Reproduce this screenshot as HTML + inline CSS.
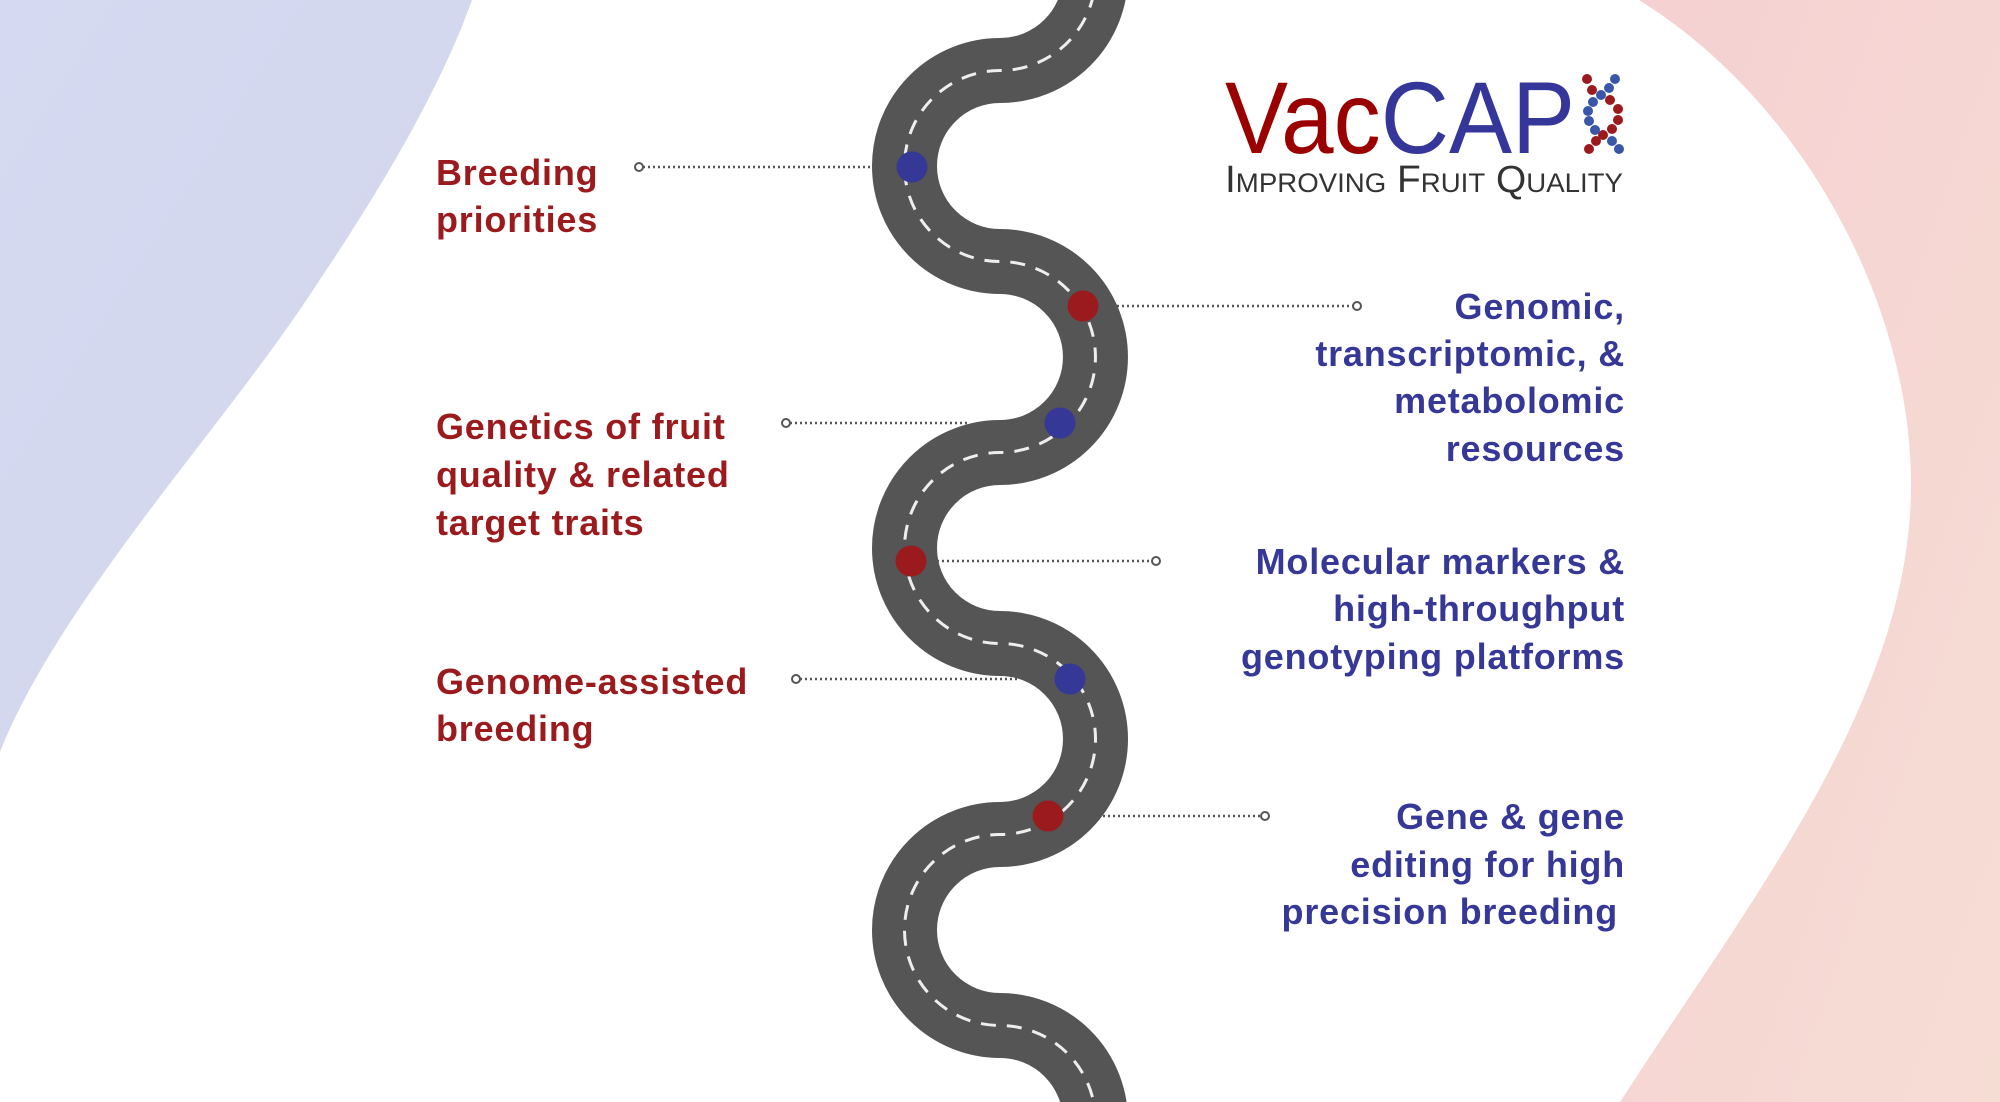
<!DOCTYPE html>
<html><head><meta charset="utf-8"><style>
html,body{margin:0;padding:0;background:#fff;width:2000px;height:1102px;overflow:hidden}
svg{display:block}
</style></head><body>
<svg width="2000" height="1102" viewBox="0 0 2000 1102" xmlns="http://www.w3.org/2000/svg">
<defs>
<linearGradient id="gb" x1="0" y1="0" x2="1" y2="1"><stop offset="0" stop-color="#d5daf2"/><stop offset="1" stop-color="#d2d5ea"/></linearGradient>
<linearGradient id="gp" x1="0" y1="0" x2="1" y2="1"><stop offset="0" stop-color="#f5d0d2"/><stop offset="1" stop-color="#f6ddd4"/></linearGradient>
</defs>
<path d="M0 0 H472 C440 90 380 190 319 281 C230 420 60 600 0 752 Z" fill="url(#gb)"/>
<path d="M1639 0 C1800 100 1911 300 1911 485 C1911 700 1750 900 1620 1102 L2000 1102 L2000 0 Z" fill="url(#gp)"/>
<g fill="none">
<path d="M1000 -216 A95.5 95.5 0 0 1 1000 -25 A95.5 95.5 0 0 1 1000 166 A95.5 95.5 0 0 0 1000 357 A95.5 95.5 0 0 1 1000 548 A95.5 95.5 0 0 0 1000 739 A95.5 95.5 0 0 1 1000 930 A95.5 95.5 0 0 0 1000 1121 A95.5 95.5 0 0 1 1000 1312" transform="translate(0,-95.5)" stroke="#555555" stroke-width="65"/>
<path d="M1000 -216 A95.5 95.5 0 0 1 1000 -25 A95.5 95.5 0 0 1 1000 166 A95.5 95.5 0 0 0 1000 357 A95.5 95.5 0 0 1 1000 548 A95.5 95.5 0 0 0 1000 739 A95.5 95.5 0 0 1 1000 930 A95.5 95.5 0 0 0 1000 1121 A95.5 95.5 0 0 1 1000 1312" transform="translate(0,-95.5)" stroke="#eeeeee" stroke-width="3" stroke-dasharray="15 11"/>
</g>
<g stroke="#555" stroke-width="2.5" stroke-dasharray="2 3" fill="none">
<line x1="643" y1="167" x2="872" y2="167"/>
<line x1="1117" y1="306" x2="1353" y2="306"/>
<line x1="790" y1="423" x2="969" y2="423"/>
<line x1="937" y1="561" x2="1152" y2="561"/>
<line x1="800" y1="679" x2="1020" y2="679"/>
<line x1="1103" y1="816" x2="1261" y2="816"/>
</g>
<g stroke="#555" stroke-width="2" fill="#fff">
<circle cx="639" cy="167" r="4"/><circle cx="1357" cy="306" r="4"/><circle cx="786" cy="423" r="4"/>
<circle cx="1156" cy="561" r="4"/><circle cx="796" cy="679" r="4"/><circle cx="1265" cy="816" r="4"/>
</g>
<g>
<circle cx="912" cy="167" r="15.5" fill="#353896"/>
<circle cx="1083" cy="306" r="15.5" fill="#9b1a1d"/>
<circle cx="1060" cy="423" r="15.5" fill="#353896"/>
<circle cx="911" cy="561" r="15.5" fill="#9b1a1d"/>
<circle cx="1070" cy="679" r="15.5" fill="#353896"/>
<circle cx="1048" cy="816" r="15.5" fill="#9b1a1d"/>
</g>
<g font-family="Liberation Sans, sans-serif" font-weight="bold" font-size="36" letter-spacing="0.8" fill="#9b1a1d">
<text x="436" y="185">Breeding</text>
<text x="436" y="232">priorities</text>
<text x="436" y="439">Genetics of fruit</text>
<text x="436" y="487">quality &amp; related</text>
<text x="436" y="535">target traits</text>
<text x="436" y="694">Genome-assisted</text>
<text x="436" y="741">breeding</text>
</g>
<g font-family="Liberation Sans, sans-serif" font-weight="bold" font-size="36" letter-spacing="0.8" fill="#353896" text-anchor="end">
<text x="1625" y="319">Genomic,</text>
<text x="1625" y="366">transcriptomic, &amp;</text>
<text x="1625" y="413">metabolomic</text>
<text x="1625" y="461">resources</text>
<text x="1625" y="574">Molecular markers &amp;</text>
<text x="1625" y="621">high-throughput</text>
<text x="1625" y="669">genotyping platforms</text>
<text x="1625" y="829">Gene &amp; gene</text>
<text x="1625" y="877">editing for high</text>
<text x="1618" y="924">precision breeding</text>
</g>
<text x="1225" y="153" font-family="Liberation Sans, sans-serif" font-size="102" textLength="350" lengthAdjust="spacingAndGlyphs"><tspan fill="#9b0000">Vac</tspan><tspan fill="#34369a">CAP</tspan></text>
<text x="1225" y="192" font-family="Liberation Sans, sans-serif" font-size="38" fill="#333" style="font-variant:small-caps" textLength="398" lengthAdjust="spacingAndGlyphs">Improving Fruit Quality</text>
<g fill="#9b1a1d">
<circle cx="1587" cy="79" r="5"/><circle cx="1592" cy="90" r="5"/><circle cx="1610" cy="100" r="5"/><circle cx="1618" cy="109" r="5"/><circle cx="1618" cy="120" r="5"/><circle cx="1612" cy="129" r="5"/><circle cx="1603" cy="135" r="5"/><circle cx="1596" cy="141" r="5"/><circle cx="1589" cy="149" r="5"/>
</g>
<g fill="#3a56a8">
<circle cx="1615" cy="79" r="5"/><circle cx="1609" cy="88" r="5"/><circle cx="1601" cy="95" r="5"/><circle cx="1593" cy="102" r="5"/><circle cx="1588" cy="111" r="5"/><circle cx="1589" cy="121" r="5"/><circle cx="1595" cy="130" r="5"/><circle cx="1612" cy="141" r="5"/><circle cx="1619" cy="149" r="5"/>
</g>
</svg>
</body></html>
